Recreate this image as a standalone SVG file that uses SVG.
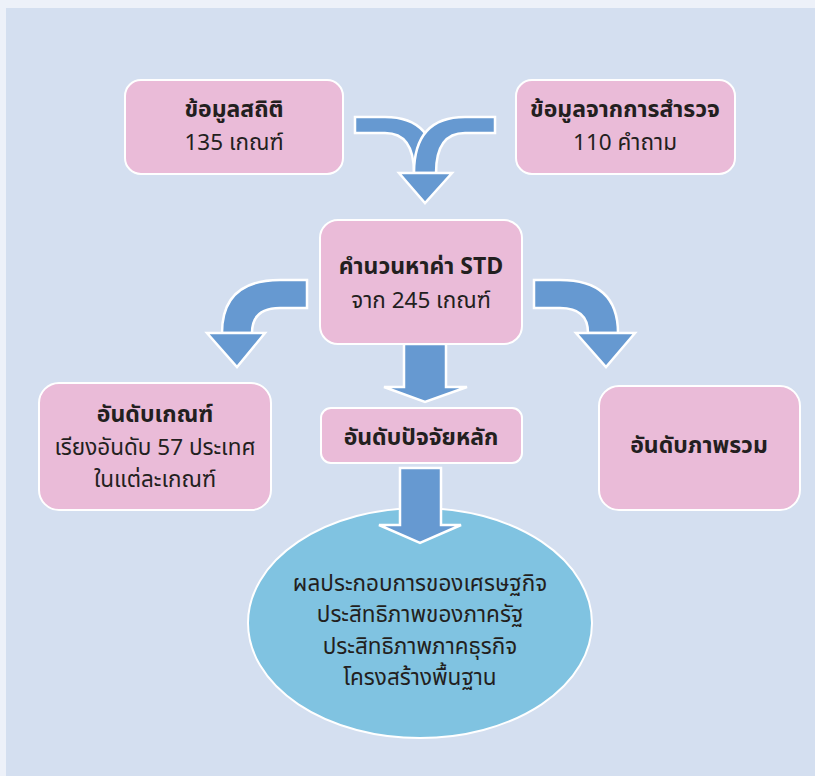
<svg xmlns="http://www.w3.org/2000/svg" width="815" height="776" viewBox="0 0 815 776">
<style>
.box{fill:#eabbd8;stroke:#ffffff;stroke-width:2}
.arr{fill:#6699d1;stroke:#ffffff;stroke-width:2.5;stroke-linejoin:miter}
text{font-family:"Noto Sans Thai","Noto Sans","DejaVu Sans","Liberation Sans",sans-serif;fill:#231f20;text-anchor:middle;font-size:22.5px}
.b{font-weight:bold;font-size:23px}
.e{font-size:22.5px}
</style>
<rect x="0" y="0" width="815" height="776" fill="#edf1f9"/>
<rect x="6" y="8" width="809" height="768" fill="#d4dff0"/>

<g id="connectors">
  <path class="arr" d="M355,117 L385,117 Q436,117 436,173 L414,173 Q414,133 385,133 L355,133 Z"/>
  <path class="arr" d="M495,117 L465,117 Q414,117 414,173 L436,173 Q436,133 465,133 L495,133 Z"/>
  <polygon class="arr" points="399,173 452,173 425,203"/>
  <path class="arr" d="M307,280 L280,280 Q222,280 222,333 L252,333 Q252,308 280,308 L307,308 Z"/>
  <polygon class="arr" points="207,333 265,333 237,367"/>
  <path class="arr" d="M534,280 L560,280 Q618,280 618,333 L588,333 Q588,308 560,308 L534,308 Z"/>
  <polygon class="arr" points="576,333 635,333 606,367"/>
  <polygon class="arr" points="404,344 446,344 446,387 467,387 425,402 384,387 404,387"/>
</g>

<g id="node-stat">
  <rect class="box" x="125" y="80" width="218" height="94" rx="16"/>
  <text class="b" x="234" y="117">ข้อมูลสถิติ</text>
  <text x="234" y="150">135 เกณฑ์</text>
</g>
<g id="node-survey">
  <rect class="box" x="516" y="80" width="219" height="94" rx="16"/>
  <text class="b" x="625" y="117">ข้อมูลจากการสำรวจ</text>
  <text x="625" y="150">110 คำถาม</text>
</g>
<g id="node-std">
  <rect class="box" x="320" y="220" width="202" height="124" rx="18"/>
  <text class="b" x="421" y="274">คำนวนหาค่า STD</text>
  <text x="421" y="308">จาก 245 เกณฑ์</text>
</g>
<g id="node-rank-criteria">
  <rect class="box" x="39" y="383" width="232" height="127" rx="20"/>
  <text class="b" x="155" y="422">อันดับเกณฑ์</text>
  <text x="155" y="455">เรียงอันดับ 57 ประเทศ</text>
  <text x="155" y="487">ในแต่ละเกณฑ์</text>
</g>
<g id="node-rank-factor">
  <rect class="box" x="321" y="408" width="201" height="55" rx="10"/>
  <text class="b" x="421" y="445">อันดับปัจจัยหลัก</text>
</g>
<g id="node-rank-overall">
  <rect class="box" x="599" y="386" width="201" height="124" rx="20"/>
  <text class="b" x="699" y="453">อันดับภาพรวม</text>
</g>
<g id="node-factors">
  <ellipse cx="420" cy="623" rx="172" ry="115" fill="#80c3e1" stroke="#ffffff" stroke-width="2"/>
  <text class="e" x="420" y="591">ผลประกอบการของเศรษฐกิจ</text>
  <text class="e" x="420" y="622">ประสิทธิภาพของภาครัฐ</text>
  <text class="e" x="420" y="654">ประสิทธิภาพภาคธุรกิจ</text>
  <text class="e" x="420" y="685">โครงสร้างพื้นฐาน</text>
</g>
<g id="connector-down">
  <polygon class="arr" points="400,468 441,468 441,525 461,525 420,543 379,525 400,525"/>
</g>
</svg>
